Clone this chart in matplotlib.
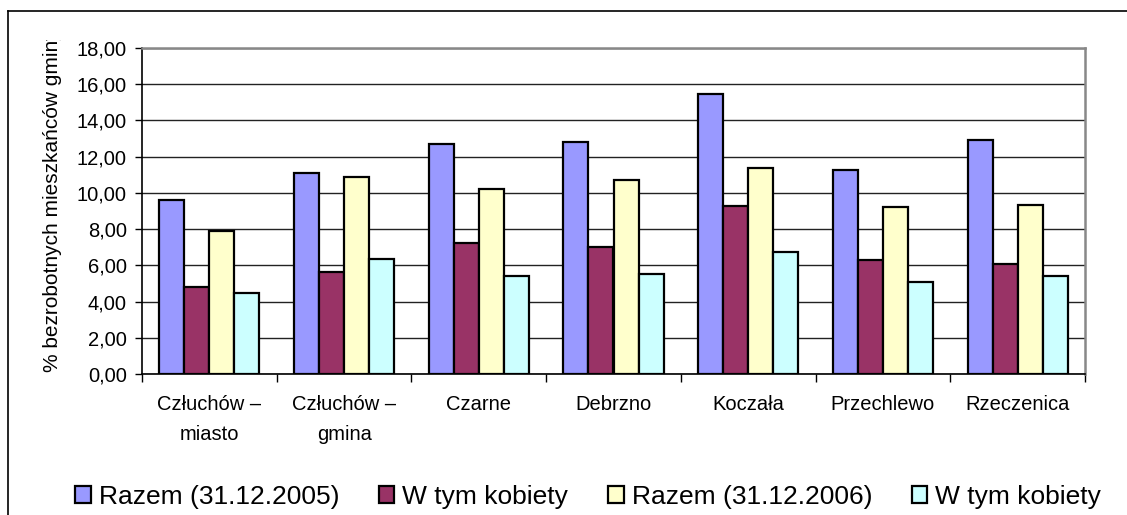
import matplotlib.pyplot as plt
from matplotlib.lines import Line2D
from matplotlib.transforms import Bbox, TransformedBbox
from matplotlib.ticker import FuncFormatter
import numpy as np

plt.rcParams['font.family'] = ['Liberation Sans', 'DejaVu Sans']

gminy = ['Człuchów –\nmiasto', 'Człuchów –\ngmina', 'Czarne', 'Debrzno',
         'Koczała', 'Przechlewo', 'Rzeczenica']
razem_2005 = [9.60, 11.10, 12.72, 12.83, 15.46, 11.28, 12.94]
kobiety_2005 = [4.80, 5.65, 7.22, 7.00, 9.28, 6.28, 6.09]
razem_2006 = [7.88, 10.90, 10.24, 10.70, 11.35, 9.20, 9.35]
kobiety_2006 = [4.45, 6.35, 5.41, 5.50, 6.72, 5.06, 5.42]

series = [
    ('Razem (31.12.2005)', razem_2005, '#9999FF'),
    ('W tym kobiety', kobiety_2005, '#993366'),
    ('Razem (31.12.2006)', razem_2006, '#FFFFCC'),
    ('W tym kobiety', kobiety_2006, '#CCFFFF'),
]

fig = plt.figure(figsize=(11.27, 5.15), dpi=100)
W, H = 1127, 515
ax = fig.add_axes([142 / W, 1 - 374 / H, (1085 - 142) / W, (374 - 48) / H])

x = np.arange(len(gminy))
w = 0.186
for j, (name, vals, col) in enumerate(series):
    ax.bar(x + (j - 1.5) * w, vals, w, color=col, edgecolor='black',
           linewidth=1.6, label=name, zorder=3)

ax.set_xlim(-0.5, len(gminy) - 0.5)
ax.set_ylim(0, 18)
ax.set_yticks(np.arange(0, 18.01, 2))
ax.yaxis.set_major_formatter(FuncFormatter(lambda v, p: f'{v:.2f}'.replace('.', ',')))
ax.yaxis.grid(True, color='#222222', linewidth=1, zorder=0)
ax.tick_params(axis='y', direction='out', length=5, width=1, labelsize=14.5, pad=6)

# category boundary ticks, labels centred on groups
ax.set_xticks(np.arange(-0.5, len(gminy), 1))
ax.set_xticklabels([])
ax.tick_params(axis='x', which='major', direction='out', length=6, width=1)
ax.set_xticks(x, minor=True)
ax.set_xticklabels(gminy, minor=True, fontsize=14.5, linespacing=1.75)
ax.tick_params(axis='x', which='minor', length=0, pad=15)

for s in ['left', 'bottom']:
    ax.spines[s].set_color('black')
    ax.spines[s].set_linewidth(1.2)
for s in ['top', 'right']:
    ax.spines[s].set_color('#888888')
    ax.spines[s].set_linewidth(1.8)

ylab = fig.text(53 / W, 1 - 372 / H, '% bezrobotnych mieszkańców gminy',
                rotation=90, ha='center', va='bottom', fontsize=15)
ylab.set_clip_box(TransformedBbox(Bbox.from_extents(0, 0, 1, 1 - 40 / H), fig.transFigure))
ylab.set_clip_on(True)

# outer chart border (left and top visible)
fig.add_artist(Line2D([8 / W, 8 / W], [0, 1 - 11 / H], transform=fig.transFigure,
                      color='black', linewidth=1.2))
fig.add_artist(Line2D([8 / W, 1], [1 - 11 / H, 1 - 11 / H], transform=fig.transFigure,
                      color='black', linewidth=1.2))

fig.legend(loc='center', bbox_to_anchor=(588 / W, 1 - 497 / H), ncol=4, frameon=False,
           fontsize=19, handlelength=0.6, handleheight=0.6, handletextpad=0.3,
           columnspacing=1.5, borderpad=0)

fig.savefig('out.png', dpi=100)
